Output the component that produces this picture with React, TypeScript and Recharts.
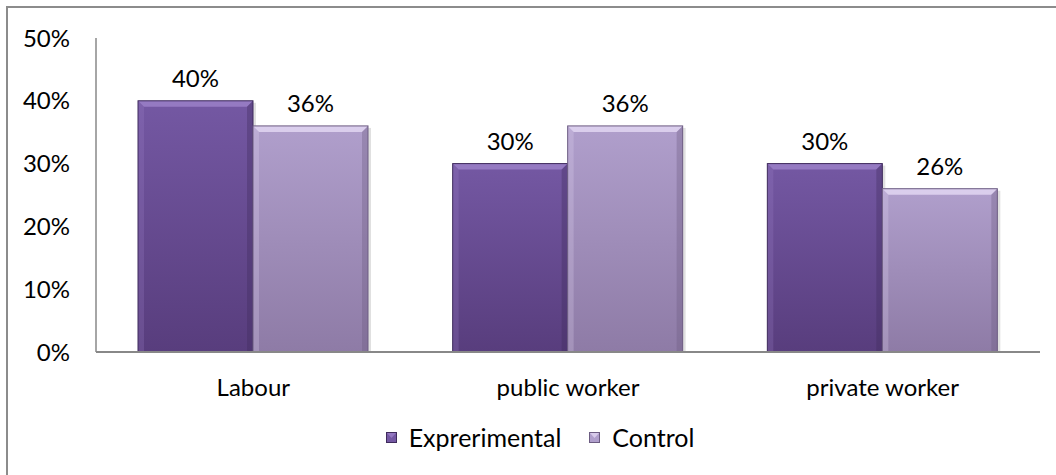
import { Bar, BarChart, LabelList, Legend, XAxis, YAxis } from "recharts";

const categories = ["Labour", "public worker", "private worker"];
const experimental = [0.4, 0.3, 0.3];
const control = [0.36, 0.36, 0.26];
const yTicks = [0, 0.1, 0.2, 0.3, 0.4, 0.5];

const data = categories.map((name, i) => ({
  name,
  exp: experimental[i],
  ctl: control[i],
}));

const FONT = "Lato, 'Open Sans', sans-serif";
const FS = 24;
const pct = (v: number) => `${Math.round(v * 100)}%`;

const PALETTE = {
  exp: { top: "#7458a3", bottom: "#583d7d", light: "#9b80c8", dark: "#3f2b5c" },
  ctl: { top: "#b09fcc", bottom: "#8e7ba6", light: "#e2d6f2", dark: "#6c5c82" },
};

function BevelBar(props: any) {
  const { x, y, width, height, pal, gid } = props;
  if (!height || height <= 0) return null;
  const b = 6;
  return (
    <g>
      <rect x={x + 3} y={y + 2} width={width} height={height - 2} fill="#000" opacity={0.12} />
      <rect x={x} y={y} width={width} height={height} fill={`url(#${gid})`} />
      <polygon
        points={`${x},${y} ${x + width},${y} ${x + width - b},${y + b} ${x + b},${y + b}`}
        fill={pal.light}
        opacity={0.85}
      />
      <polygon
        points={`${x},${y} ${x + b},${y + b} ${x + b},${y + height} ${x},${y + height}`}
        fill={pal.light}
        opacity={0.25}
      />
      <polygon
        points={`${x + width},${y} ${x + width - b},${y + b} ${x + width - b},${y + height} ${x + width},${y + height}`}
        fill={pal.dark}
        opacity={0.35}
      />
      <rect x={x} y={y} width={width} height={height} fill="none" stroke={pal.dark} strokeWidth={1} />
    </g>
  );
}

function LegendBox({ pal }: { pal: any }) {
  return (
    <svg width={11} height={11} style={{ marginRight: 12 }}>
      <rect x={0.5} y={0.5} width={10} height={10} fill={pal.top} stroke={pal.dark} />
      <polygon points="1,1 10,1 5.5,6" fill={pal.light} opacity={0.8} />
    </svg>
  );
}

function renderLegend() {
  const items = [
    { label: "Exprerimental", pal: PALETTE.exp },
    { label: "Control", pal: PALETTE.ctl },
  ];
  return (
    <div
      style={{
        display: "flex",
        justifyContent: "center",
        alignItems: "center",
        fontFamily: FONT,
        fontSize: 25,
        color: "#000",
        lineHeight: "28px",
        paddingLeft: 40,
      }}
    >
      {items.map((it, i) => (
        <div key={it.label} style={{ display: "flex", alignItems: "center", marginLeft: i ? 28 : 0 }}>
          <LegendBox pal={it.pal} />
          <span>{it.label}</span>
        </div>
      ))}
    </div>
  );
}

export default function App() {
  return (
    <div style={{ position: "fixed", left: 0, top: 0, width: 1056, height: 475, background: "#fff" }}>
      <div
        style={{
          position: "absolute",
          left: 6,
          top: 6,
          width: 1060,
          height: 480,
          border: "2px solid #8c8c8c",
          boxSizing: "border-box",
        }}
      />
      <BarChart
        width={1056}
        height={475}
        data={data}
        margin={{ top: 38, right: 16, left: 0, bottom: 65 }}
        barSize={115}
        barGap={0}
        style={{ position: "absolute", left: 0, top: 0 }}
      >
        <defs>
          <linearGradient id="gExp" x1="0" y1="0" x2="0" y2="1">
            <stop offset="0%" stopColor={PALETTE.exp.top} />
            <stop offset="100%" stopColor={PALETTE.exp.bottom} />
          </linearGradient>
          <linearGradient id="gCtl" x1="0" y1="0" x2="0" y2="1">
            <stop offset="0%" stopColor={PALETTE.ctl.top} />
            <stop offset="100%" stopColor={PALETTE.ctl.bottom} />
          </linearGradient>
        </defs>
        <XAxis
          dataKey="name"
          height={30}
          axisLine={{ stroke: "#888", strokeWidth: 2 }}
          tickLine={false}
          tickSize={0}
          tickMargin={27}
          tick={{ fill: "#000", fontFamily: FONT, fontSize: FS }}
        />
        <YAxis
          width={96}
          domain={[0, 0.5]}
          ticks={yTicks}
          tickFormatter={pct}
          axisLine={{ stroke: "#888", strokeWidth: 1.5 }}
          tickLine={false}
          tickSize={0}
          tickMargin={26}
          tick={{ fill: "#000", fontFamily: FONT, fontSize: FS }}
        />
        <Legend
          verticalAlign="bottom"
          height={28}
          content={renderLegend}
          wrapperStyle={{ bottom: 24 }}
        />
        <Bar
          dataKey="exp"
          name="Exprerimental"
          isAnimationActive={false}
          shape={(p: any) => <BevelBar {...p} pal={PALETTE.exp} gid="gExp" />}
        >
          <LabelList dataKey="exp" position="top" offset={14} formatter={pct} fill="#000" fontFamily={FONT} fontSize={FS} />
        </Bar>
        <Bar
          dataKey="ctl"
          name="Control"
          isAnimationActive={false}
          shape={(p: any) => <BevelBar {...p} pal={PALETTE.ctl} gid="gCtl" />}
        >
          <LabelList dataKey="ctl" position="top" offset={14} formatter={pct} fill="#000" fontFamily={FONT} fontSize={FS} />
        </Bar>
      </BarChart>
    </div>
  );
}
